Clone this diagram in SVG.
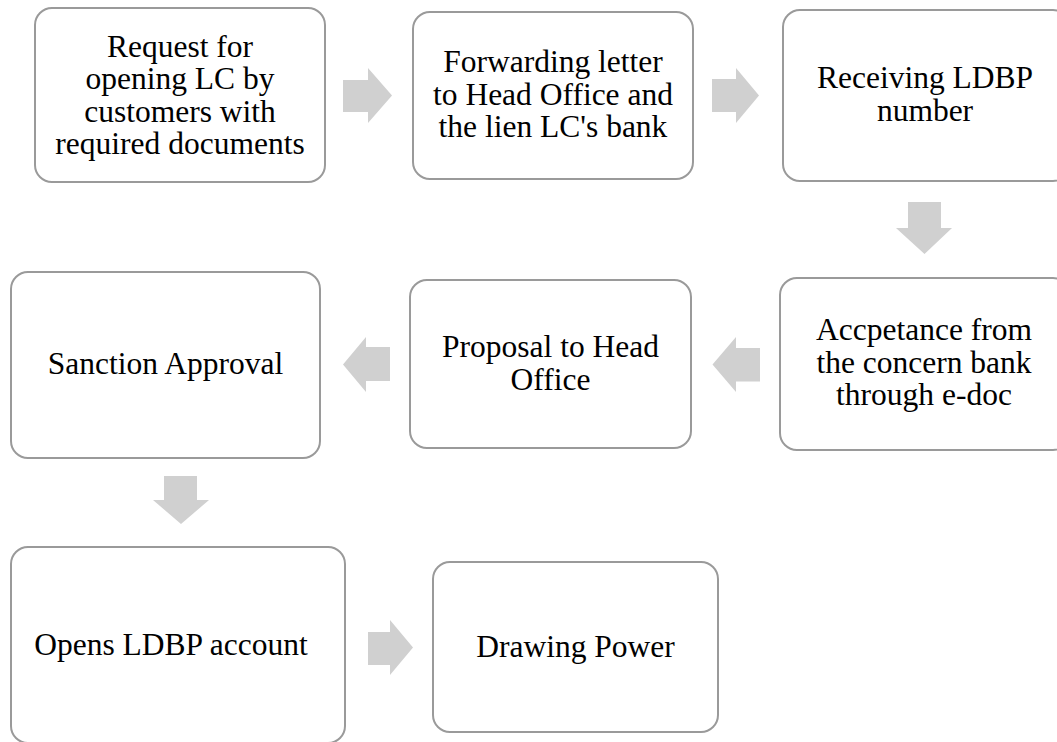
<svg xmlns="http://www.w3.org/2000/svg" width="1057" height="742" viewBox="0 0 1057 742">
<style>
.box{fill:#fff;stroke:#9a9a9a;stroke-width:2}
.arr{fill:#d0d0d0;stroke:none}
.t{font-family:'Liberation Serif','Times New Roman',Times,'DejaVu Serif',serif;font-size:31.5px;fill:#000;text-anchor:middle}
</style>
<rect width="1057" height="742" fill="#fff"/>
<g id="connectors">
<polygon class="arr" points="343,80 368,80 368,68 392,95.5 368,123 368,112 343,112"/>
<polygon class="arr" points="712,79 736,79 736,68 759,95.5 736,123 736,112 712,112"/>
<polygon class="arr" points="908,202 941,202 941,228 952,228 924.5,254 896,228 908,228"/>
<polygon class="arr" points="760,348 736,348 736,337 712.5,364.5 736,392 736,381.5 760,381.5"/>
<polygon class="arr" points="390,347 366,347 366,337 343,364.5 366,392 366,381 390,381"/>
<polygon class="arr" points="164,476 197,476 197,500 209,500 181,524 153,500 164,500"/>
<polygon class="arr" points="368,632 390,632 390,620 413,647.5 390,675 390,665 368,665"/>
</g>
<g id="n1" class="t" font-family="Liberation Serif, Times New Roman, serif"><rect class="box" x="35" y="8" width="290" height="174" rx="17"/>
<text x="180" y="56.5">Request for</text><text x="180" y="89">opening LC by</text><text x="180" y="121.5">customers with</text><text x="180" y="154">required documents</text></g>
<g id="n2" class="t" font-family="Liberation Serif, Times New Roman, serif"><rect class="box" x="413" y="12" width="280" height="167" rx="17"/>
<text x="553" y="72">Forwarding letter</text><text x="553" y="104.5">to Head Office and</text><text x="553" y="137">the lien LC's bank</text></g>
<g id="n3" class="t" font-family="Liberation Serif, Times New Roman, serif"><rect class="box" x="783" y="10" width="287" height="171" rx="17"/>
<text x="925" y="88">Receiving LDBP</text><text x="925" y="120.5">number</text></g>
<g id="n4" class="t" font-family="Liberation Serif, Times New Roman, serif"><rect class="box" x="780" y="278" width="290" height="172" rx="17"/>
<text x="924" y="340">Accpetance from</text><text x="924" y="372.5">the concern bank</text><text x="924" y="405">through e-doc</text></g>
<g id="n5" class="t" font-family="Liberation Serif, Times New Roman, serif"><rect class="box" x="410" y="280" width="281" height="168" rx="17"/>
<text x="550.5" y="357">Proposal to Head</text><text x="550.5" y="390">Office</text></g>
<g id="n6" class="t" font-family="Liberation Serif, Times New Roman, serif"><rect class="box" x="11" y="272" width="309" height="186" rx="17"/>
<text x="165.5" y="374">Sanction Approval</text></g>
<g id="n7" class="t" font-family="Liberation Serif, Times New Roman, serif"><rect class="box" x="11" y="547" width="334" height="196" rx="17"/>
<text x="171" y="655">Opens LDBP account</text></g>
<g id="n8" class="t" font-family="Liberation Serif, Times New Roman, serif"><rect class="box" x="433" y="562" width="285" height="170" rx="17"/>
<text x="575.5" y="657">Drawing Power</text></g>
</svg>
